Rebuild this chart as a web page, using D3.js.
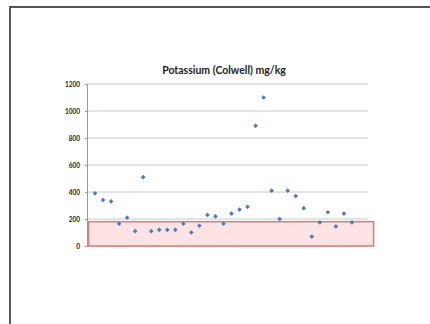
<!DOCTYPE html>
<html>
<head>
<meta charset="utf-8">
<script src="https://cdn.jsdelivr.net/npm/d3@7"></script>
<style>
  html, body { margin: 0; padding: 0; background: #fff; }
  svg { display: block; }
</style>
</head>
<body>
<svg id="chart" width="430" height="324"></svg>
<script>
// Potassium (Colwell) readings, one per sample site
const sampleIds = d3.range(1, 34);
const potassium = [390, 340, 330, 165, 210, 110, 510, 110, 120, 120, 120, 165, 100, 150,
  230, 220, 165, 240, 270, 290, 890, 1100, 410, 200, 410, 370, 280, 70, 175, 250, 145, 240, 175];
const yTicks = [0, 200, 400, 600, 800, 1000, 1200];
const lowBand = [0, 180];   // deficient range shaded in red
const chartTitle = "Potassium (Colwell) mg/kg";

const svg = d3.select("#chart");
const font = "Lato, 'Open Sans', Arial, sans-serif";

// page frame
svg.append("path")
  .attr("d", "M10,330 L10,7 L432,7")
  .attr("fill", "none").attr("stroke", "#555").attr("stroke-width", 2);

const plot = { left: 87, right: 368, top: 84, bottom: 246 };
const x = d3.scaleLinear().domain([0, 35]).range([plot.left, plot.right]);
const y = d3.scaleLinear().domain([0, 1200]).range([plot.bottom, plot.top]);

// gridlines
svg.append("g")
  .selectAll("line").data(yTicks.filter(d => d > 0)).join("line")
  .attr("x1", plot.left).attr("x2", plot.right)
  .attr("y1", d => y(d)).attr("y2", d => y(d))
  .attr("stroke", "#c8c8c8").attr("stroke-width", 1);

// y axis
const yAxis = d3.axisLeft(y).tickValues(yTicks).tickFormat(d3.format("d"))
  .tickSize(2).tickPadding(5);
const ga = svg.append("g").attr("transform", `translate(${plot.left},0)`).call(yAxis);
ga.select(".domain").attr("stroke", "#999");
ga.selectAll(".tick line").attr("stroke", "#999");
ga.selectAll("text").attr("font-family", font)
  .attr("font-size", 6.5).attr("font-weight", "bold").attr("fill", "#222");

// x axis baseline
svg.append("line")
  .attr("x1", plot.left).attr("x2", plot.right)
  .attr("y1", y(0)).attr("y2", y(0))
  .attr("stroke", "#999");

// shaded low-potassium band
svg.append("rect")
  .attr("x", x(0) + 1.5).attr("y", y(lowBand[1]))
  .attr("width", x(35.7) - x(0) - 1.5).attr("height", y(lowBand[0]) - y(lowBand[1]))
  .attr("fill", "#fde3e3").attr("stroke", "#d77b7b").attr("stroke-width", 1.5);

// title
svg.append("text")
  .attr("x", 224).attr("y", 74)
  .attr("text-anchor", "middle")
  .attr("font-family", font)
  .attr("font-size", 10.5).attr("font-weight", "bold").attr("fill", "#222")
  .text(chartTitle);

// diamond markers
const diamond = d3.symbol().type(d3.symbolDiamond2).size(14);
svg.append("g")
  .selectAll("path").data(potassium).join("path")
  .attr("d", diamond)
  .attr("transform", (d, i) => `translate(${x(sampleIds[i])},${y(d)})`)
  .attr("fill", "#4a7ebb");
</script>
</body>
</html>
